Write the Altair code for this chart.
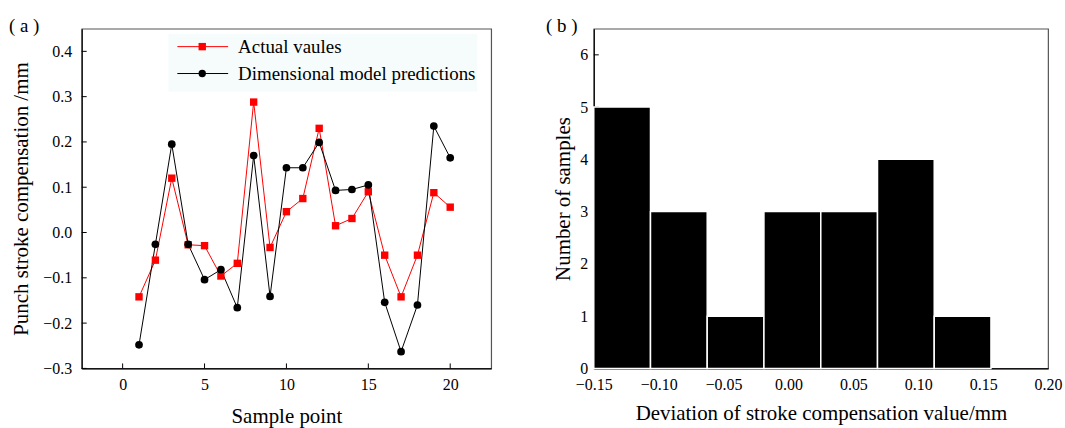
import altair as alt
import pandas as pd

# ---------------- data ----------------
samples = list(range(1, 21))
actual = [-0.142, -0.061, 0.120, -0.027, -0.029, -0.096, -0.068, 0.288, -0.033, 0.046,
          0.075, 0.230, 0.015, 0.031, 0.090, -0.050, -0.142, -0.050, 0.088, 0.056]
predicted = [-0.248, -0.026, 0.195, -0.026, -0.104, -0.082, -0.166, 0.170, -0.141, 0.143,
             0.143, 0.199, 0.093, 0.095, 0.105, -0.154, -0.263, -0.160, 0.235, 0.165]

bin_edges = [-0.15, -0.1063, -0.0626, -0.0189, 0.0249, 0.0686, 0.1123, 0.156]
counts = [5, 3, 1, 3, 3, 4, 1]

ya_ticks = [-0.3, -0.2, -0.1, 0.0, 0.1, 0.2, 0.3, 0.4]
xa_ticks = [0, 5, 10, 15, 20]
yb_ticks = [0, 1, 2, 3, 4, 5, 6]
xb_ticks = [-0.15, -0.10, -0.05, 0.0, 0.05, 0.10, 0.15, 0.20]

legend_labels = ["Actual vaules", "Dimensional model predictions"]

FONT = "Liberation Serif"
WA, HA = 411, 341
WB, HB = 456, 341

df_act = pd.DataFrame({"sample": samples, "value": actual})
df_pred = pd.DataFrame({"sample": samples, "value": predicted})
df_hist = pd.DataFrame({"start": bin_edges[:-1], "end": bin_edges[1:], "count": counts})
one = pd.DataFrame({"k": [0]})

xa_scale = alt.Scale(domain=[-2.5, 22.5], nice=False, zero=False)
ya_scale = alt.Scale(domain=[-0.3, 0.45], nice=False, zero=False)

xa_axis = alt.Axis(values=xa_ticks, tickSize=0, grid=False, title="Sample point",
                   labelPadding=8, titlePadding=13, labelFlush=False)
ya_axis = alt.Axis(values=ya_ticks, format=".1f", tickSize=0, grid=False,
                   title="Punch stroke compensation /mm", labelPadding=10, titlePadding=11)

X_A = alt.X("sample:Q", scale=xa_scale, axis=xa_axis)
Y_A = alt.Y("value:Q", scale=ya_scale, axis=ya_axis)

# inward ticks for panel (a)
ya_tick_layer = alt.Chart(pd.DataFrame({"value": ya_ticks})).mark_rule(color="black", strokeWidth=1).encode(
    y=alt.Y("value:Q", scale=ya_scale, axis=ya_axis), x=alt.value(0), x2=alt.value(5))
xa_tick_layer = alt.Chart(pd.DataFrame({"sample": xa_ticks})).mark_rule(color="black", strokeWidth=1).encode(
    x=alt.X("sample:Q", scale=xa_scale, axis=xa_axis), y=alt.value(HA), y2=alt.value(HA - 5))

red_line = alt.Chart(df_act).mark_line(color="#ff0000", strokeWidth=1).encode(x=X_A, y=Y_A)
red_pts = alt.Chart(df_act).mark_point(shape="square", filled=True, size=55, color="#ff0000", opacity=1).encode(x=X_A, y=Y_A)
blk_line = alt.Chart(df_pred).mark_line(color="#000000", strokeWidth=1).encode(x=X_A, y=Y_A)
blk_pts = alt.Chart(df_pred).mark_point(shape="circle", filled=True, size=60, color="#000000", opacity=1).encode(x=X_A, y=Y_A)

# legend (manual)
leg_bg = alt.Chart(one).mark_rect(color="#f6fcfc").encode(
    x=alt.value(87), x2=alt.value(397), y=alt.value(5), y2=alt.value(63))
leg_layers = [leg_bg]
for i, (lab, col, shp) in enumerate(zip(legend_labels, ["#ff0000", "#000000"], ["square", "circle"])):
    yy = 18 + 27 * i
    leg_layers.append(alt.Chart(one).mark_rule(color=col, strokeWidth=1).encode(
        x=alt.value(96), x2=alt.value(147), y=alt.value(yy)))
    leg_layers.append(alt.Chart(one).mark_point(shape=shp, filled=True, size=55, color=col, opacity=1).encode(
        x=alt.value(121), y=alt.value(yy)))
    leg_layers.append(alt.Chart(pd.DataFrame({"t": [lab]})).mark_text(
        font=FONT, fontSize=19, align="left", baseline="middle", color="black").encode(
        text="t:N", x=alt.value(157), y=alt.value(yy)))

label_a = alt.Chart(pd.DataFrame({"t": ["( a )"]})).mark_text(
    font=FONT, fontSize=19, align="left", baseline="middle", color="black").encode(
    text="t:N", x=alt.value(-73), y=alt.value(-3))

panel_a = alt.layer(ya_tick_layer, xa_tick_layer, red_line, blk_line, red_pts, blk_pts,
                    *leg_layers, label_a).properties(width=WA, height=HA)

# ---------------- panel (b) ----------------
xb_scale = alt.Scale(domain=[-0.15, 0.20], nice=False, zero=False)
yb_scale = alt.Scale(domain=[0, 6.5], nice=False, zero=False)
xb_axis = alt.Axis(values=xb_ticks, format=".2f", tickSize=0, grid=False, labelFlush=False,
                   title="Deviation of stroke compensation value/mm", labelPadding=8, titlePadding=10)
yb_axis = alt.Axis(values=yb_ticks, format="d", tickSize=0, grid=False,
                   title="Number of samples", labelPadding=6, titlePadding=6)

yb_tick_layer = alt.Chart(pd.DataFrame({"count": yb_ticks})).mark_rule(color="black", strokeWidth=1).encode(
    y=alt.Y("count:Q", scale=yb_scale, axis=yb_axis), x=alt.value(0), x2=alt.value(5))
bars = alt.Chart(df_hist).mark_rect(fill="black", stroke="white", strokeWidth=1.5).encode(
    x=alt.X("start:Q", scale=xb_scale, axis=xb_axis), x2="end:Q",
    y=alt.Y("count:Q", scale=yb_scale, axis=yb_axis), y2=alt.datum(0))
label_b = alt.Chart(pd.DataFrame({"t": ["( b )"]})).mark_text(
    font=FONT, fontSize=19, align="left", baseline="middle", color="black").encode(
    text="t:N", x=alt.value(-48), y=alt.value(-3))

panel_b = alt.layer(yb_tick_layer, bars, label_b).properties(width=WB, height=HB)

chart = alt.hconcat(panel_a, panel_b, spacing=53).properties(
    padding={"left": 8, "top": 15, "right": 2, "bottom": 0},
    background="white",
).configure_view(stroke="#555555", strokeWidth=1.2).configure_axis(
    labelFont=FONT, titleFont=FONT, labelFontSize=16, titleFontSize=21,
    labelColor="black", titleColor="black", titleFontWeight="normal",
    domainColor="black", domainWidth=1.2,
)

chart.save("out.html", embed_options={"renderer": "svg", "actions": False})
